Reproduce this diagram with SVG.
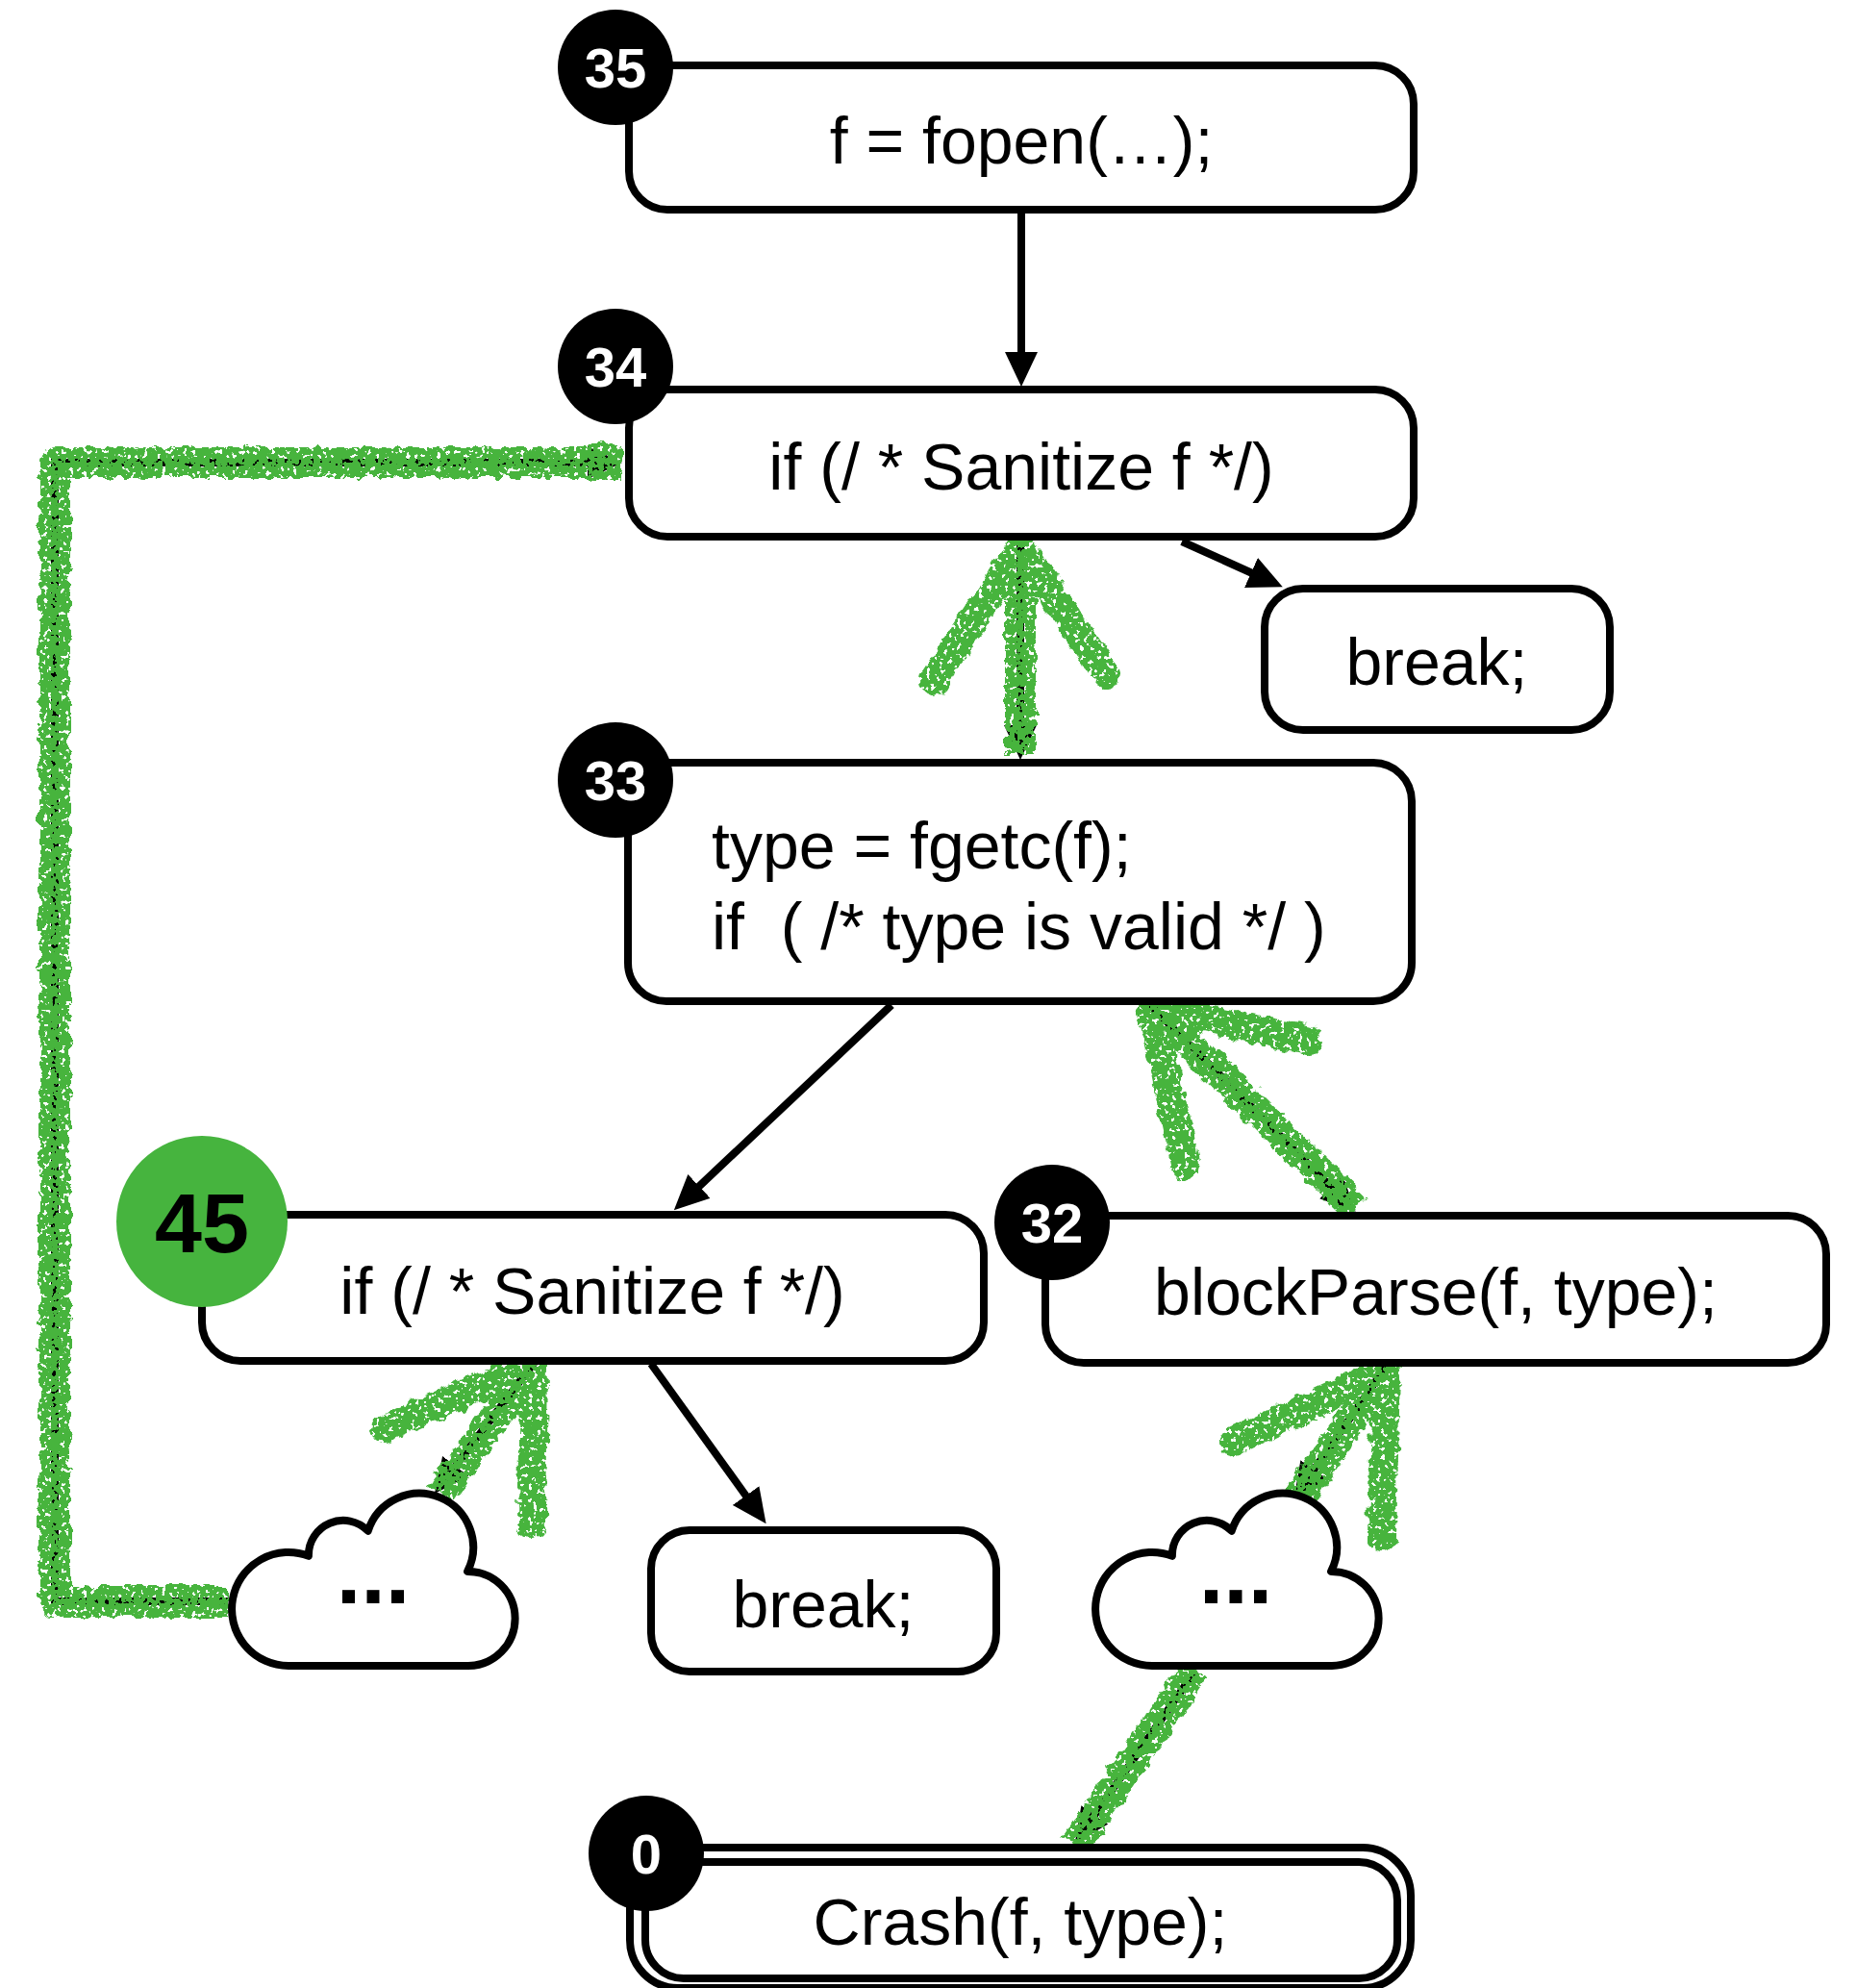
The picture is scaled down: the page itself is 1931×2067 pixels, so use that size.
<svg xmlns="http://www.w3.org/2000/svg" width="1931" height="2067" viewBox="0 0 1931 2067">
<defs>
<style>
.box{fill:#fff;stroke:#000;stroke-width:8}
.lbl{font-family:"Liberation Sans",Arial,Helvetica,sans-serif;font-size:68px;fill:#000}
.mid{text-anchor:middle}
.num{font-family:"Liberation Sans",Arial,Helvetica,sans-serif;font-weight:bold;font-size:58px;fill:#fff;text-anchor:middle}
.badge{fill:#000}
.edge{stroke:#000;stroke-width:8;fill:none}
.g{stroke:#46B43E;stroke-width:32;fill:none;stroke-linecap:butt;stroke-linejoin:round}
.ga{stroke:#46B43E;stroke-width:30;fill:none;stroke-linecap:round;stroke-linejoin:round}
.cloud{fill:#fff;stroke:#000;stroke-width:8;stroke-linejoin:round}
.dots{font-family:"Liberation Sans",Arial,Helvetica,sans-serif;font-weight:bold;font-size:92px;fill:#000;text-anchor:middle}
</style>
<marker id="ah" markerUnits="userSpaceOnUse" markerWidth="36" markerHeight="34" viewBox="0 0 36 34" refX="11" refY="17" orient="auto">
<path d="M0,0 L36,17 L0,34 z" fill="#000"/>
</marker>
<filter id="chalk" filterUnits="userSpaceOnUse" x="0" y="0" width="1931" height="2067">
<feTurbulence type="fractalNoise" baseFrequency="0.09" numOctaves="2" seed="3" result="noise"/>
<feDisplacementMap in="SourceGraphic" in2="noise" scale="12" xChannelSelector="R" yChannelSelector="G" result="disp"/>
<feTurbulence type="fractalNoise" baseFrequency="0.22" numOctaves="2" seed="11" result="n2"/>
<feColorMatrix in="n2" type="matrix" values="0 0 0 0 0  0 0 0 0 0  0 0 0 0 0  0 0 0 -25 16.5" result="mask"/>
<feComposite in="disp" in2="mask" operator="in"/>
</filter>
<path id="cloudShape" d="M300,1732 A59,59 0 1 1 320.9,1617.8 A36,36 0 0 1 382.7,1591.8 A56,56 0 1 1 486.1,1633.9 A49,49 0 1 1 487,1732 Z"/>
</defs>
<rect width="1931" height="2067" fill="#fff"/>

<g id="connectors">
<path class="edge" d="M1062,219 L1062,377" marker-end="url(#ah)"/>
<path class="edge" d="M1229,563 L1311,600" marker-end="url(#ah)"/>
<path class="edge" d="M927,1045 L719,1241" marker-end="url(#ah)"/>
<path class="edge" d="M677,1418 L782,1564" marker-end="url(#ah)"/>
<path class="edge" d="M1061,561 L1061,765" marker-end="url(#ah)"/>
<path class="edge" d="M1196,1045 L1392,1242" marker-end="url(#ah)"/>
<path class="edge" d="M556,1416 L467,1533" marker-end="url(#ah)"/>
<path class="edge" d="M1442,1420 L1360,1537" marker-end="url(#ah)"/>
<path class="edge" d="M1243,1737 L1132,1896" marker-end="url(#ah)"/>
<path class="edge" d="M237,1665 L57,1665 L57,481 L622,481" marker-end="url(#ah)"/>
<g id="slice-highlight" filter="url(#chalk)">
<path class="g" d="M1061,785 L1061,574"/>
<path class="ga" d="M971,708 L1061,570 L1150,701"/>
<path class="g" d="M1410,1256 L1201,1050"/>
<path class="ga" d="M1232,1211 L1198,1048 L1359,1081"/>
<path class="g" d="M457,1555 L552,1421"/>
<path class="ga" d="M400,1485 L555,1418 L553,1584"/>
<path class="g" d="M1349,1559 L1438,1428"/>
<path class="ga" d="M1283,1499 L1441,1425 L1437,1598"/>
<path class="g" d="M1243,1735 L1118,1918"/>
<path class="g" d="M237,1665 L57,1665 L57,481 L612,481"/>
<path class="g" d="M600,481 L647,481" style="stroke-width:36"/>
</g>
</g>

<g id="node-35">
<rect class="box" x="654" y="68" width="816" height="150" rx="40"/>
<text class="lbl mid" x="1062" y="170">f = fopen(…);</text>
<circle class="badge" cx="640" cy="70" r="60"/>
<text class="num" x="640" y="91">35</text>
</g>

<g id="node-34">
<rect class="box" x="654" y="405" width="816" height="153" rx="40"/>
<text class="lbl mid" x="1062" y="509">if (/ * Sanitize f */)</text>
<circle class="badge" cx="640" cy="381" r="60"/>
<text class="num" x="640" y="402">34</text>
</g>

<g id="node-break-top">
<rect class="box" x="1315" y="612" width="359" height="147" rx="40"/>
<text class="lbl mid" x="1494" y="712">break;</text>
</g>

<g id="node-33">
<rect class="box" x="653" y="793" width="815" height="248" rx="40"/>
<text class="lbl" x="740" y="903">type = fgetc(f);</text>
<text class="lbl" x="740" y="987" xml:space="preserve">if  ( /* type is valid */ )</text>
<circle class="badge" cx="640" cy="811" r="60"/>
<text class="num" x="640" y="832">33</text>
</g>

<g id="node-45">
<rect class="box" x="210" y="1263" width="813" height="152" rx="40"/>
<text class="lbl mid" x="616" y="1366">if (/ * Sanitize f */)</text>
<circle cx="210" cy="1270" r="89" fill="#46B43E"/>
<text x="210" y="1302" style="font-family:'Liberation Sans',Arial,Helvetica,sans-serif;font-weight:bold;font-size:88px;fill:#000;text-anchor:middle">45</text>
</g>

<g id="node-32">
<rect class="box" x="1087" y="1264" width="812" height="153" rx="40"/>
<text class="lbl mid" x="1493" y="1367">blockParse(f, type);</text>
<circle class="badge" cx="1094" cy="1271" r="60"/>
<text class="num" x="1094" y="1292">32</text>
</g>

<g id="node-cloud-left">
<use href="#cloudShape" class="cloud"/>
<text class="dots" x="388" y="1667">...</text>
</g>

<g id="node-break-bottom">
<rect class="box" x="677" y="1591" width="359" height="147" rx="40"/>
<text class="lbl mid" x="856" y="1692">break;</text>
</g>

<g id="node-cloud-right">
<use href="#cloudShape" class="cloud" transform="translate(898,0)"/>
<text class="dots" x="1285" y="1667">...</text>
</g>

<g id="node-0">
<rect class="box" x="655" y="1921" width="812" height="146" rx="50"/>
<rect class="box" x="671" y="1936" width="782" height="121" rx="40"/>
<text class="lbl mid" x="1061" y="2022">Crash(f, type);</text>
<circle class="badge" cx="672" cy="1927" r="60"/>
<text class="num" x="672" y="1948">0</text>
</g>
</svg>
